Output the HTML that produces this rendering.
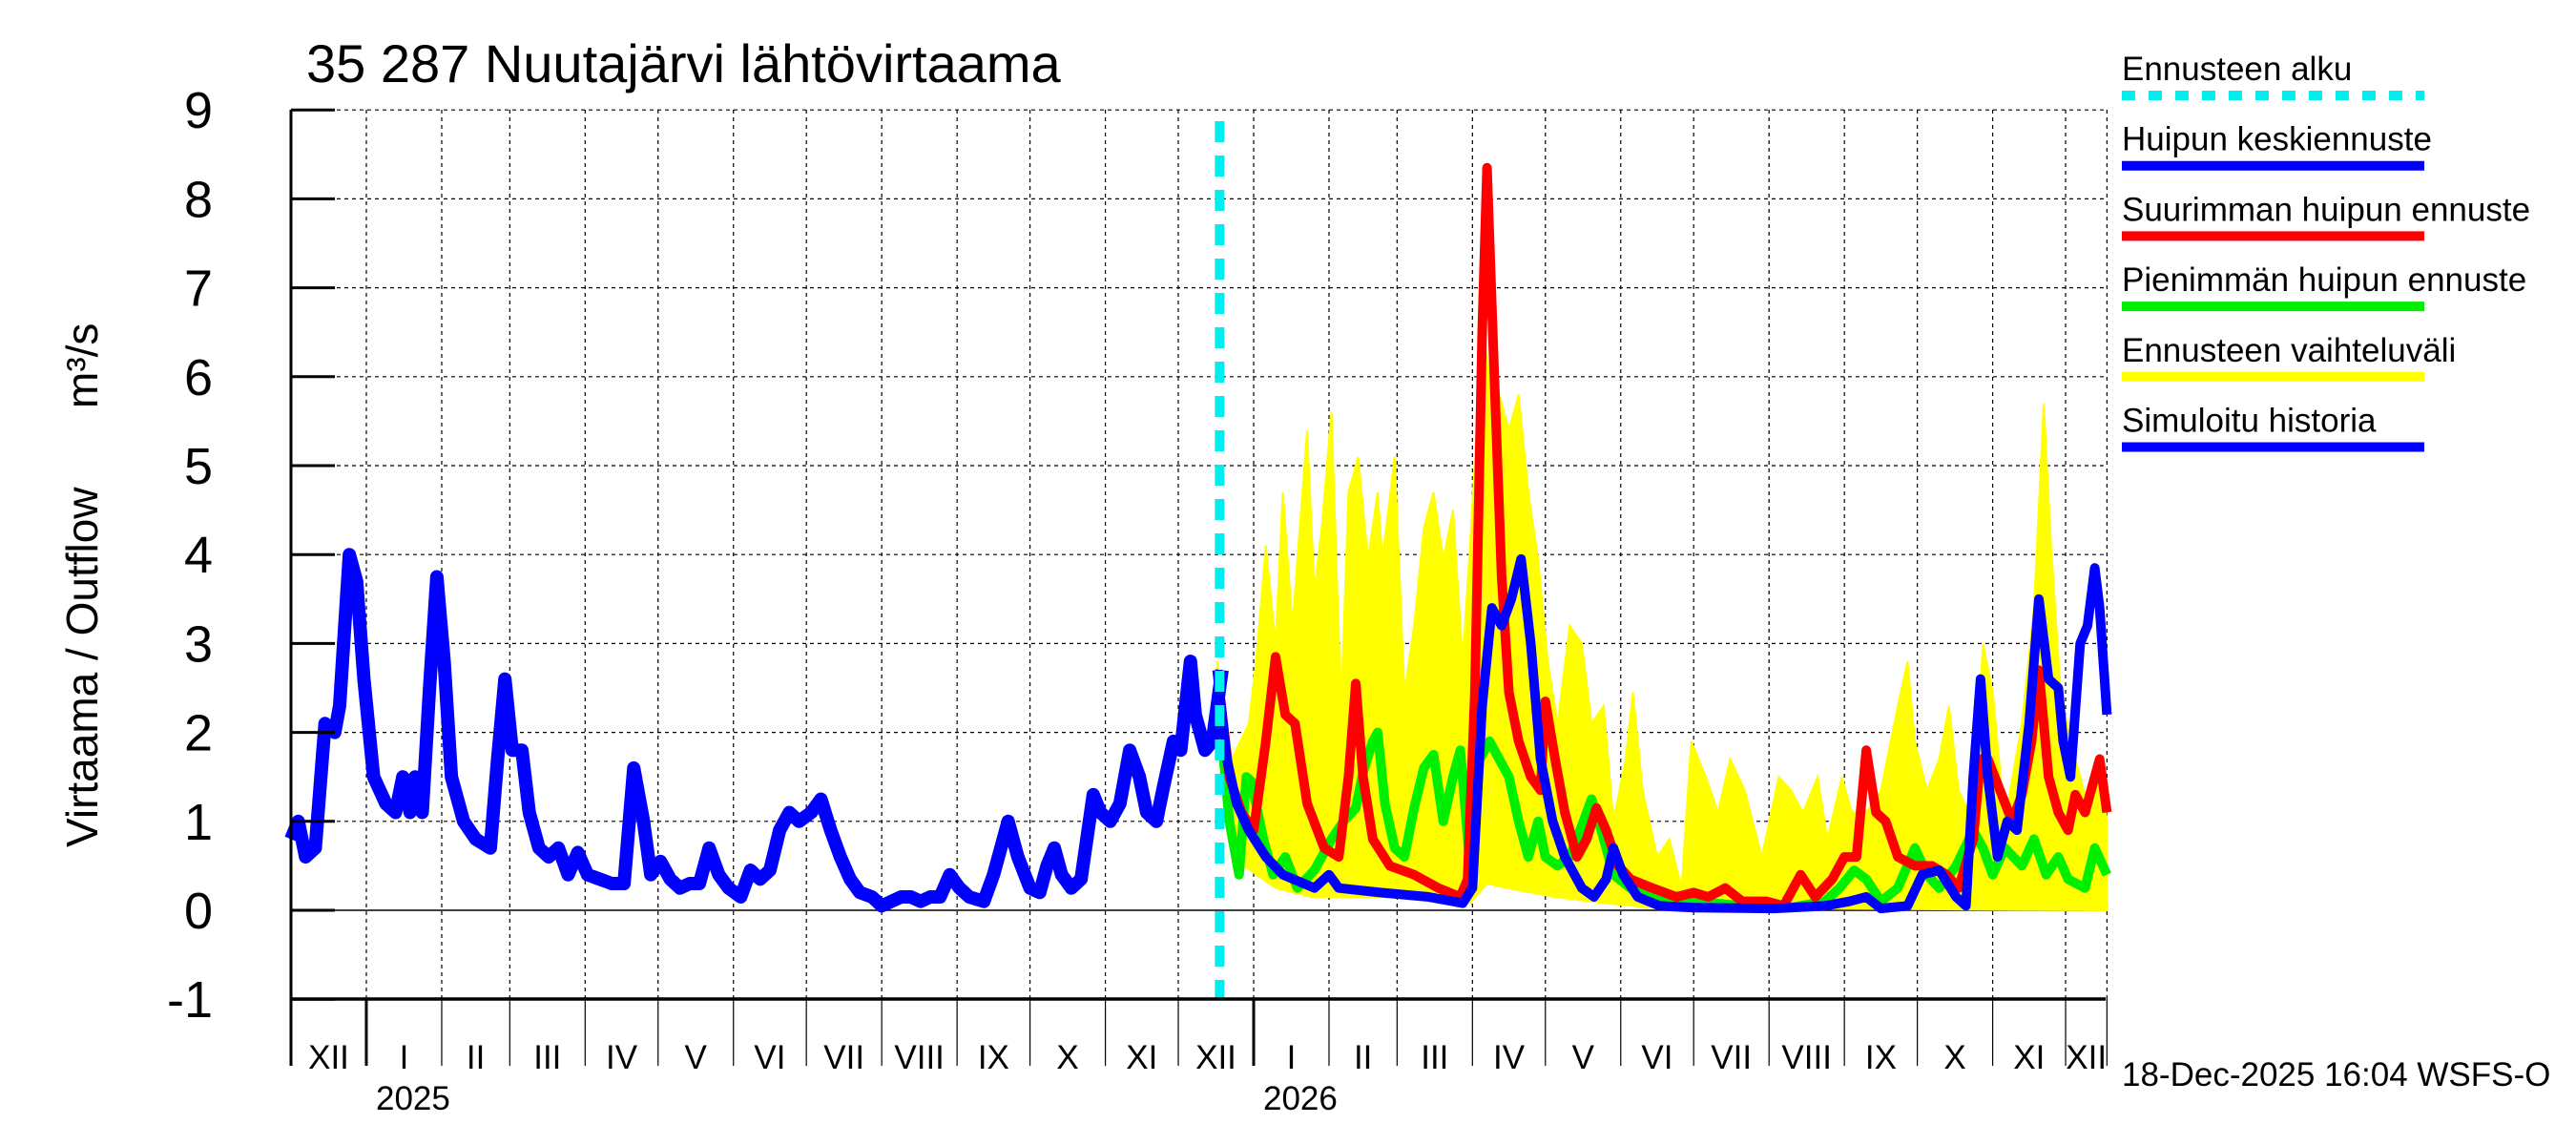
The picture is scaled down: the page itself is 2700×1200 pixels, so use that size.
<!DOCTYPE html>
<html><head><meta charset="utf-8"><style>
html,body{margin:0;padding:0;background:#fff;}
svg{display:block;font-family:"Liberation Sans",sans-serif;}
</style></head><body>
<svg id="chart" width="2700" height="1200" viewBox="0 0 2700 1200" xmlns="http://www.w3.org/2000/svg">
<rect x="0" y="0" width="2700" height="1200" fill="#fff"/>
<g id="grid"></g>
<g id="band"></g>
<g id="series"></g>
<g id="axes"></g>
<text x="321" y="86" font-size="56">35 287 Nuutajärvi lähtövirtaama</text>
<text transform="translate(102,888) rotate(-90)" font-size="46">Virtaama / Outflow</text>
<text transform="translate(102,428) rotate(-90)" font-size="46">m³/s</text>
<g id="legend"></g>
<text x="2224" y="1138" font-size="35">18-Dec-2025 16:04 WSFS-O</text>
</svg>
<script>
// Day offsets from 1 Dec 2024
const histDays=[0,3,6,10,14,18,20,24,27,30,34,39,43,46,49,51,54,57,60,63,66,71,76,82,85,88,91,95,98,102,106,110,114,118,122,127,132,137,141,145,148,152,156,160,164,168,172,176,180,185,189,193,197,201,205,209,214,218,222,226,230,234,239,243,247,251,255,259,263,267,271,275,279,285,289,293,295,299,304,308,311,314,317,321,325,330,333,337,341,345,349,352,356,359,363,366,370,372,376,379,383];
const histVals=[0.8,1.0,0.6,0.7,2.1,2.0,2.3,4.0,3.7,2.6,1.5,1.2,1.1,1.5,1.1,1.5,1.1,2.5,3.75,2.8,1.5,1.0,0.8,0.7,1.7,2.6,1.8,1.8,1.1,0.7,0.6,0.7,0.4,0.65,0.4,0.35,0.3,0.3,1.6,1.0,0.4,0.55,0.35,0.25,0.3,0.3,0.7,0.4,0.25,0.15,0.45,0.35,0.45,0.9,1.1,1.0,1.1,1.25,0.9,0.6,0.35,0.2,0.15,0.05,0.1,0.15,0.15,0.1,0.15,0.15,0.4,0.25,0.15,0.1,0.4,0.8,1.0,0.6,0.25,0.2,0.5,0.7,0.4,0.25,0.35,1.3,1.1,1.0,1.2,1.8,1.5,1.1,1.0,1.4,1.9,1.8,2.8,2.2,1.8,1.9,2.7];
const medDays=[381,385,389,394,401,408,421,427,431,448,468,482,486,490,494,498,502,506,510,514,519,524,531,536,541,544,548,554,563,577,610,631,641,648,654,665,671,678,685,689,692,695,698,702,706,710,715,719,723,727,729,732,736,739,742,744,747];
const medVals=[2.7,1.7,1.2,0.9,0.6,0.4,0.25,0.4,0.25,0.2,0.15,0.08,0.25,2.3,3.4,3.2,3.5,3.95,3.0,1.7,1.0,0.6,0.25,0.15,0.35,0.7,0.4,0.15,0.05,0.03,0.02,0.05,0.1,0.15,0.02,0.05,0.4,0.45,0.15,0.05,1.5,2.6,1.5,0.6,1.0,0.9,2.1,3.5,2.6,2.5,1.9,1.5,3.0,3.2,3.85,3.4,2.2];
const maxDays=[381,386,391,396,401,405,409,413,418,425,431,435,438,441,445,452,462,472,481,484,487,490,492,495,498,501,505,510,514,516,520,524,529,533,537,541,546,551,560,570,577,583,590,597,607,614,621,627,634,639,644,648,652,656,661,668,675,681,686,692,695,698,703,708,712,716,719,723,727,731,734,738,740,744,747];
const maxVals=[2.7,1.5,1.1,0.9,1.9,2.85,2.2,2.1,1.2,0.7,0.6,1.5,2.55,1.5,0.8,0.5,0.4,0.25,0.15,0.35,2.45,6.5,8.35,6.0,3.75,2.45,1.9,1.5,1.35,2.35,1.7,1.1,0.6,0.8,1.15,0.9,0.5,0.35,0.25,0.15,0.2,0.15,0.25,0.1,0.1,0.05,0.4,0.15,0.35,0.6,0.6,1.8,1.1,1.0,0.6,0.5,0.5,0.4,0.25,0.8,1.7,1.7,1.35,1.0,1.3,1.9,2.7,1.5,1.1,0.9,1.3,1.1,1.3,1.7,1.1];
const minDays=[381,386,390,393,395,400,404,409,414,421,428,433,438,441,445,447,450,454,458,462,466,470,474,478,481,485,489,493,497,501,505,509,513,516,521,526,531,535,539,544,551,563,577,597,617,631,637,643,648,654,661,668,673,678,685,692,696,700,705,712,717,722,727,731,738,742,747];
const minVals=[2.5,1.0,0.4,1.5,1.45,0.8,0.4,0.6,0.25,0.45,0.8,1.0,1.15,1.55,1.9,2.0,1.2,0.7,0.6,1.15,1.6,1.75,1.0,1.5,1.8,0.5,1.7,1.9,1.7,1.5,1.0,0.6,1.0,0.6,0.5,0.6,0.95,1.25,0.9,0.4,0.25,0.15,0.1,0.05,0.03,0.1,0.25,0.45,0.35,0.1,0.25,0.7,0.4,0.25,0.5,0.9,0.7,0.4,0.7,0.5,0.8,0.4,0.6,0.35,0.25,0.7,0.4];
const upDays=[381,387,394,397,401,405,408,412,414,418,421,424,428,432,435,439,443,447,449,454,458,462,466,470,474,478,482,485,490,494,497,501,505,509,513,517,521,526,531,535,540,544,549,552,556,562,567,572,576,582,587,592,598,605,612,617,622,628,632,638,642,648,654,661,665,668,673,678,682,686,692,696,700,705,712,717,721,724,728,732,736,740,744,747];
const upVals=[2.8,1.7,2.1,2.8,4.1,3.0,4.7,3.2,3.95,5.4,3.6,4.3,5.6,2.3,4.7,5.1,3.95,4.7,3.95,5.1,2.45,3.2,4.3,4.7,3.95,4.5,2.8,4.1,6.5,5.9,5.8,5.4,5.8,4.7,3.95,2.8,2.1,3.2,3.0,2.1,2.3,1.0,1.7,2.45,1.35,0.6,0.8,0.25,1.9,1.5,1.1,1.7,1.35,0.6,1.5,1.35,1.1,1.5,0.8,1.5,1.1,1.1,1.35,2.3,2.8,1.9,1.35,1.7,2.3,1.35,1.0,3.0,2.45,1.0,2.1,3.4,5.7,4.1,2.45,1.9,1.5,1.1,1.7,1.0];
const lowDays=[381,386,392,405,420,450,485,492,500,520,540,560,747];
const lowVals=[2.5,0.9,0.5,0.25,0.15,0.15,0.08,0.3,0.25,0.15,0.08,0.03,0.0];
const yTicks=[-1,0,1,2,3,4,5,6,7,8,9];
const monthStarts=[0,31,62,90,121,151,182,212,243,274,304,335,365,396,427,455,486,516,547,577,608,639,669,700,730,747];
const monthLabels=["XII","I","II","III","IV","V","VI","VII","VIII","IX","X","XI","XII","I","II","III","IV","V","VI","VII","VIII","IX","X","XI","XII"];
const yearLabels=["2025","2026"];
const yearStarts=[31,396];
const forecastStartDay=382;

const X0=305,PX=2.548,Y0=954,PY=93.2,TOP=115,BOT=1047,RIGHT=2207;
const xs=d=>X0+d*PX, ys=v=>Y0-v*PY;
const NS="http://www.w3.org/2000/svg";
function mk(tag,attrs,parent){const e=document.createElementNS(NS,tag);for(const k in attrs)e.setAttribute(k,attrs[k]);parent.appendChild(e);return e;}
const grid=document.getElementById('grid'),axes=document.getElementById('axes'),band=document.getElementById('band'),ser=document.getElementById('series'),leg=document.getElementById('legend');

yTicks.forEach(v=>{
  const l=mk('line',{x1:X0,x2:RIGHT,y1:ys(v),y2:ys(v),stroke:'#000','stroke-width':(v===0?1.5:1.2),'stroke-dasharray':(v===0?'none':'4,4')},grid);
  
  
  const t=mk('line',{x1:X0,x2:X0+46,y1:ys(v),y2:ys(v),stroke:'#000','stroke-width':3},axes);
  
  
  const tx=mk('text',{x:223,y:ys(v)+19,'font-size':54,'text-anchor':'end'},axes);
  tx.textContent=v;
  
  
});
monthStarts.forEach((d,i)=>{
  const x=xs(d);
  if(i>0){const g=mk('line',{x1:x,x2:x,y1:TOP,y2:BOT,stroke:'#000','stroke-width':1.2,'stroke-dasharray':'4,4'},grid);
  
  }
  if(i<monthStarts.length-1||i===monthStarts.length-1){
    const isYear=yearStarts.includes(d);
    const t=mk('line',{x1:x,x2:x,y1:BOT,y2:1117,stroke:'#000','stroke-width':isYear?3:1.2},axes);
    
    
  }
  if(i<monthLabels.length){
    const c=(xs(d)+xs(monthStarts[i+1]))/2;
    const tx=mk('text',{x:c,y:1120,'font-size':35,'text-anchor':'middle'},axes);
    tx.textContent=monthLabels[i];
    
    
  }
});
yearLabels.forEach((y,i)=>{
  const tx=mk('text',{x:xs(yearStarts[i])+10,y:1163,'font-size':35},axes);
  tx.textContent=y;
  
  
});
mk('line',{x1:X0,x2:X0,y1:TOP,y2:1117,stroke:'#000','stroke-width':3},axes);
mk('line',{x1:X0,x2:RIGHT,y1:BOT,y2:BOT,stroke:'#000','stroke-width':3.5},axes);

// band
function interp(days,vals,d){if(d<=days[0])return vals[0];for(let i=1;i<days.length;i++){if(d<=days[i]){const t=(d-days[i-1])/(days[i]-days[i-1]);return vals[i-1]+t*(vals[i]-vals[i-1]);}}return vals[vals.length-1];}
let pts=upDays.map((d,i)=>xs(d)+','+ys(upVals[i]));
for(let i=lowDays.length-1;i>=0;i--)pts.push(xs(lowDays[i])+','+ys(lowVals[i]));
const bp=mk('polygon',{points:pts.join(' '),fill:'#ffff00',stroke:'#ffff00','stroke-width':2},band);



function line(days,vals,color,w,name){
  const p=mk('polyline',{points:days.map((d,i)=>xs(d)+','+ys(vals[i])).join(' '),fill:'none',stroke:color,'stroke-width':w,'stroke-linejoin':'round'},ser);
  
  
}
line(minDays,minVals,'#00ee00',10,'min-peak-forecast-line');
line(maxDays,maxVals,'#ff0000',10,'max-peak-forecast-line');
line(medDays,medVals,'#0000ff',10,'median-peak-forecast-line');
line(histDays,histVals,'#0000ff',14,'simulated-history-line');
const fl=mk('line',{x1:xs(forecastStartDay),x2:xs(forecastStartDay),y1:TOP+12,y2:BOT,stroke:'#00eeee','stroke-width':10,'stroke-dasharray':'22,14'},ser);



const legItems=[["Ennusteen alku","#00eeee",true],["Huipun keskiennuste","#0000ff",false],["Suurimman huipun ennuste","#ff0000",false],["Pienimmän huipun ennuste","#00ee00",false],["Ennusteen vaihteluväli","#ffff00",false],["Simuloitu historia","#0000ff",false]];
legItems.forEach((it,i)=>{
  const y=100+i*73.7;
  const t=mk('text',{x:2224,y:y-16,'font-size':35},leg);
  t.textContent=it[0];
  
  
  const l=mk('line',{x1:2224,x2:2541,y1:y,y2:y,stroke:it[1],'stroke-width':10,'stroke-dasharray':it[2]?'14,14':'none'},leg);
  
  
});
</script>
</body></html>
